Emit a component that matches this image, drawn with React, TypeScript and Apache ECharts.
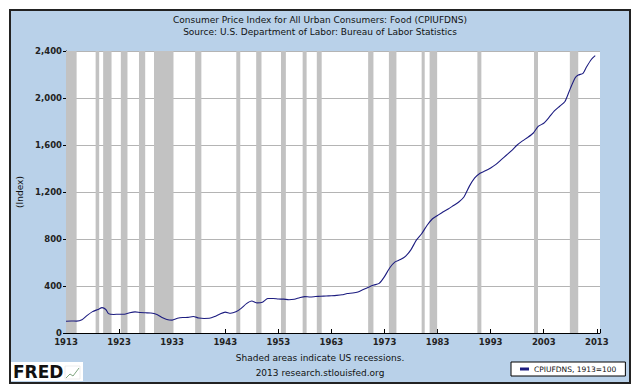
import React, { useEffect, useRef } from "react";
import * as echarts from "echarts";

const BASE_YEAR = 1913;
const years = [
  1913, 1914, 1915, 1916, 1917, 1918, 1919, 1919.8, 1920.5, 1921, 1922, 1923, 1924, 1925, 1926, 1927,
  1928, 1929, 1930, 1931, 1932, 1933, 1934, 1935, 1936, 1937, 1938, 1939, 1940, 1941, 1942, 1943,
  1944, 1945, 1946, 1947, 1948, 1949, 1950, 1951, 1952, 1953, 1954, 1955, 1956, 1957, 1958, 1959,
  1960, 1961, 1962, 1963, 1964, 1965, 1966, 1967, 1968, 1969, 1970, 1971, 1972, 1973, 1974, 1975,
  1976, 1977, 1978, 1979, 1980, 1981, 1982, 1983, 1984, 1985, 1986, 1987, 1988, 1989, 1990, 1991,
  1992, 1993, 1994, 1995, 1996, 1997, 1998, 1999, 2000, 2001, 2002, 2003, 2004, 2005, 2006, 2007,
  2008, 2008.9, 2009.5, 2010.4, 2011, 2012, 2012.7,
];
const values = [
  100, 102, 101, 112, 150, 182, 200, 216, 200, 165, 158, 160, 159, 172, 180, 174,
  172, 170, 160, 135, 115, 110, 125, 132, 133, 140, 128, 124, 125, 140, 162, 178,
  168, 180, 210, 250, 272, 256, 262, 293, 294, 289, 288, 283, 287, 300, 310, 306,
  310, 313, 315, 317, 320, 325, 336, 340, 349, 370, 390, 408, 422, 480, 555, 605,
  625, 655, 710, 790, 845, 915, 970, 1000, 1030, 1055, 1085, 1115, 1160, 1250, 1320, 1360,
  1380, 1405, 1435, 1475, 1515, 1555, 1600, 1635, 1665, 1700, 1760, 1785, 1835, 1890, 1930, 1970,
  2080, 2170, 2195, 2210, 2260, 2330, 2360,
];
// US recessions (NBER), [start, end] as fractional years
const recessionStarts = [
  1913.0, 1918.58, 1920.0, 1923.33, 1926.75, 1929.58, 1937.33, 1945.08, 1948.83, 1953.5,
  1957.58, 1960.25, 1969.92, 1973.83, 1980.0, 1981.5, 1990.5, 2001.17, 2007.92,
];
const recessionEnds = [
  1915.0, 1919.25, 1921.58, 1924.58, 1927.92, 1933.25, 1938.5, 1945.83, 1949.83, 1954.42,
  1958.33, 1961.17, 1970.92, 1975.25, 1980.58, 1982.92, 1991.25, 2001.92, 2009.5,
];
const yTicks = [0, 400, 800, 1200, 1600, 2000, 2400];
const seriesName = "CPIUFDNS, 1913=100";
const titleLine1 = "Consumer Price Index for All Urban Consumers: Food (CPIUFDNS)";
const titleLine2 = "Source: U.S. Department of Labor: Bureau of Labor Statistics";
const footer1 = "Shaded areas indicate US recessions.";
const footer2 = "2013 research.stlouisfed.org";

const FONT = "DejaVu Sans";

export default function App() {
  const ref = useRef<HTMLDivElement>(null);
  useEffect(() => {
    if (!ref.current) return;
    const chart = echarts.init(ref.current, null, { renderer: "svg" });
    const data = years.map((y, i) => [y - BASE_YEAR, values[i]]);
    const areas = recessionStarts.map((s, i) => [
      { xAxis: s - BASE_YEAR },
      { xAxis: recessionEnds[i] - BASE_YEAR },
    ]);
    chart.setOption({
      animation: false,
      backgroundColor: "transparent",
      textStyle: { fontFamily: FONT },
      title: {
        text: titleLine1,
        subtext: titleLine2,
        left: "center",
        top: 10,
        itemGap: 3,
        textStyle: { fontFamily: FONT, fontSize: 9, fontWeight: "normal", color: "#111" },
        subtextStyle: { fontFamily: FONT, fontSize: 9, color: "#111" },
      },
      grid: {
        left: 66,
        right: 40,
        top: 51,
        bottom: 58,
        show: true,
        backgroundColor: "#ffffff",
        borderWidth: 0,
      },
      legend: {
        data: [seriesName],
        left: 511,
        top: 362,
        width: 110,
        padding: [3, 9, 3, 9],
        backgroundColor: "#ffffff",
        borderColor: "#000",
        borderWidth: 1,
        borderRadius: 0,
        icon: "rect",
        itemWidth: 9,
        itemHeight: 3,
        itemGap: 5,
        textStyle: { fontFamily: FONT, fontSize: 7.5, color: "#111" },
      },
      xAxis: {
        type: "value",
        min: 0,
        max: 100.6,
        interval: 10,
        axisLine: { show: true, lineStyle: { color: "#000", width: 1 } },
        axisTick: { show: true, inside: true, length: 4, lineStyle: { color: "#000" } },
        splitLine: { show: false },
        axisLabel: {
          fontFamily: FONT,
          fontSize: 8.5,
          fontWeight: "bold",
          color: "#222",
          margin: 4,
          formatter: (v: number) => (Math.abs(v - Math.round(v)) < 1e-6 && Math.round(v) % 10 === 0 ? String(BASE_YEAR + Math.round(v)) : ""),
        },
      },
      yAxis: {
        type: "value",
        min: yTicks[0],
        max: yTicks[yTicks.length - 1],
        interval: yTicks[1] - yTicks[0],
        name: "(Index)",
        nameLocation: "middle",
        nameGap: 41,
        nameRotate: 90,
        nameTextStyle: { fontFamily: FONT, fontSize: 9, color: "#111" },
        axisLine: { show: true, lineStyle: { color: "#000", width: 1 } },
        axisTick: { show: true, inside: false, length: 3, lineStyle: { color: "#000" } },
        splitLine: { show: true, lineStyle: { color: "#b4b4b4", width: 1 } },
        axisLabel: {
          fontFamily: FONT,
          fontSize: 8.5,
          fontWeight: "bold",
          color: "#222",
          margin: 4,
          formatter: (v: number) => v.toLocaleString("en-US"),
        },
      },
      series: [
        {
          name: seriesName,
          type: "line",
          data,
          showSymbol: false,
          symbol: "none",
          smooth: 0.2,
          lineStyle: { color: "#1c1c80", width: 1.1 },
          itemStyle: { color: "#1c1c80" },
          markArea: {
            silent: true,
            itemStyle: { color: "#c2c2c2", opacity: 1 },
            data: areas,
          },
          z: 3,
        },
      ],
      graphic: [
        {
          type: "text",
          left: "center",
          top: 353,
          style: { text: footer1, font: `9px "${FONT}"`, fill: "#111", textAlign: "center" },
        },
        {
          type: "text",
          left: "center",
          top: 368,
          style: { text: footer2, font: `9px "${FONT}"`, fill: "#111", textAlign: "center" },
        },
        {
          type: "rect",
          shape: { x: 11, y: 362, width: 72, height: 19 },
          style: { fill: "#ffffff" },
        },
        {
          type: "text",
          x: 13,
          y: 363,
          style: { text: "FRED", font: `bold 17px "${FONT}"`, fill: "#111" },
        },
        {
          type: "polyline",
          shape: { points: [[66, 378], [70, 374], [73, 376], [79, 368]] },
          style: { stroke: "#7fa67f", lineWidth: 1, fill: "none" },
        },
        {
          type: "rect",
          shape: { x: 65, y: 366, width: 15, height: 13 },
          style: { fill: "none", stroke: "#d8d8d8", lineWidth: 0.5 },
        },
      ],
    });
    return () => chart.dispose();
  }, []);

  return (
    <div style={{ position: "fixed", left: 0, top: 0, width: 640, height: 391, background: "#fff" }}>
      <div
        style={{
          position: "absolute",
          left: 9,
          top: 9,
          width: 618,
          height: 371,
          border: "2px solid #222",
          background: "#b9d1e9",
        }}
      />
      <div ref={ref} style={{ position: "absolute", left: 0, top: 0, width: 640, height: 391 }} />
    </div>
  );
}
